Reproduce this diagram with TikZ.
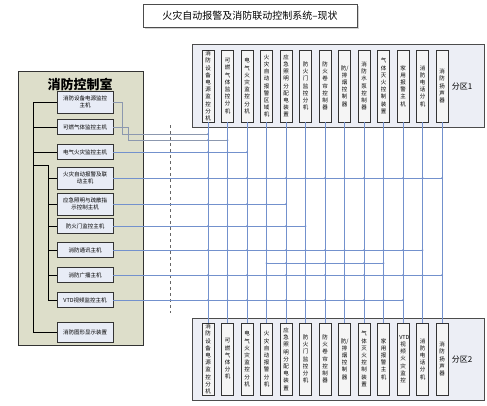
\documentclass[tikz,border=0pt]{standalone}
\usepackage{fontspec}
\newfontfamily\cjk{Noto Sans CJK SC}
\usetikzlibrary{positioning,shadows}
\XeTeXlinebreaklocale "zh"
\XeTeXlinebreakskip=0pt plus 1pt
\definecolor{panelbg}{RGB}{221,222,202}
\definecolor{hostbg}{RGB}{232,236,246}
\definecolor{zonebg}{RGB}{236,238,245}
\definecolor{busblue}{RGB}{115,145,205}
\definecolor{busgray}{RGB}{140,152,175}

\begin{document}
\begin{tikzpicture}[x=1pt,y=-1pt,font=\cjk,
host/.style={draw=black!80,line width=0.8pt,fill=hostbg,minimum width=56pt,minimum height=15pt,align=center,inner sep=1pt,font=\cjk\fontsize{5.5}{7}\selectfont},
unit/.style={draw=black!80,line width=0.8pt,fill=black!4,minimum width=12pt,minimum height=72pt,inner sep=0pt,text width=7.5pt,align=center,font=\cjk\fontsize{5.5}{7.2}\selectfont},
zone/.style={draw=black!70,line width=0.8pt,fill=zonebg},
bus/.style={busblue,line width=0.8pt},
tree/.style={black,line width=0.8pt}]
\useasboundingbox (0,0) rectangle (487,405);

% title
\node[draw=black!70,fill=white,minimum width=214pt,minimum height=23pt,font=\cjk\fontsize{10}{12}\selectfont,
  drop shadow={shadow xshift=1.5pt,shadow yshift=-1.5pt,opacity=0.35}] (title) at (250,16) {火灾自动报警及消防联动控制系统–现状};

% control room
\draw[draw=black!80,line width=0.8pt,fill=panelbg] (18,71) rectangle (143,345);
\node[font=\cjk\bfseries\fontsize{13}{15}\selectfont] (room) at (80,84) {消防控制室};
\node[host,minimum height=22pt] (l1) at (85,102) {消防设备电源监控\\主机};
\node[host] (l2) at (85,127) {可燃气体监控主机};
\node[host] (l3) at (85,152) {电气火灾监控主机};
\node[host,minimum height=22pt] (l4) at (85,178) {火灾自动报警及联\\动主机};
\node[host,minimum height=22pt] (l5) at (85,204) {应急照明与疏散指\\示控制主机};
\node[host] (l6) at (85,226) {防火门监控主机};
\node[host] (l7) at (85,250) {消防通讯主机};
\node[host] (l8) at (85,275) {消防广播主机};
\node[host] (l9) at (85,300) {VTD视频监控主机};
\node[host,minimum height=20pt] (l10) at (85,332) {消防图形显示装置};

% zones
\draw[zone] (192,44) rectangle (484,127);
\draw[zone] (192,318) rectangle (484,400);
\node[font=\cjk\fontsize{8}{10}\selectfont] (z1) at (462,87) {分区1};
\node[font=\cjk\fontsize{8}{10}\selectfont] (z2) at (462,360) {分区2};

\foreach \t [count=\i] in {消防设备电源监控分机,可燃气体监控分机,电气火灾监控分机,火灾自动报警区域机,应急照明分配电装置,防火门监控分机,防火卷帘控制器,防/排烟控制器,消防水泵控制器,气体灭火控制装置,家用报警主机,消防电话分机,消防扬声器}
  \node[unit] (t\i) at ({208+19.5*(\i-1)},86) {\t};
\foreach \t [count=\i] in {消防设备电源监控分机,可燃气体分机,电气火灾监控分机,火灾自动报警分机,应急照明分配电装置,防火门监控分机,防火卷帘控制器,防/排烟控制器,气体灭火控制装置,家用报警主机,VTD视频火灾监控,消防电话分机,消防扬声器}
  \node[unit] (b\i) at ({208+19.5*(\i-1)},359) {\t};

% buses
\draw[black!60,dashed,line width=1pt] (170,125) -- (170,313);
\foreach \i in {1,...,13}
  \draw[bus] (t\i.south) -- (b\i.north);

\coordinate (r1) at (0,134);
\coordinate (r2) at (0,140);
\coordinate (lk) at (0,263);
\draw[bus,busgray] (l1.east) -- ++(9,0) |- (r1 -| t1);
\draw[bus,busgray] (l2.east) -- ++(15,0) |- (r2 -| t2);
\fill[busblue] (r1 -| t1) circle (1pt);
\foreach \i in {1,2}
  \fill[busblue] (r2 -| t\i) circle (1pt);
\foreach \h/\n in {3/3,4/13,5/5,6/6,7/12,8/13,9/11} {
  \draw[bus] (l\h.east) -- (l\h.east -| t\n);
  \foreach \i in {1,...,\n}
    \fill[busblue] (l\h.east -| t\i) circle (1pt);
}
\draw[bus] (lk -| t4) -- (lk -| t10);
\foreach \i in {4,...,10}
  \fill[busblue] (lk -| t\i) circle (1pt);

% room wiring
\coordinate (tr1) at (33,0);
\coordinate (tr2) at (48,165);
\draw[tree] (l1.west) -- (l1.west -| tr1) -- (l10.west -| tr1) -- (l10.west);
\foreach \k in {2,3}
  \draw[tree] (l\k.west) -- (l\k.west -| tr1);
\draw[tree] (tr2 -| tr1) -- (tr2) -- (l9.west -| tr2);
\foreach \k in {4,...,9}
  \draw[tree] (l\k.west) -- (l\k.west -| tr2);
\end{tikzpicture}
\end{document}
